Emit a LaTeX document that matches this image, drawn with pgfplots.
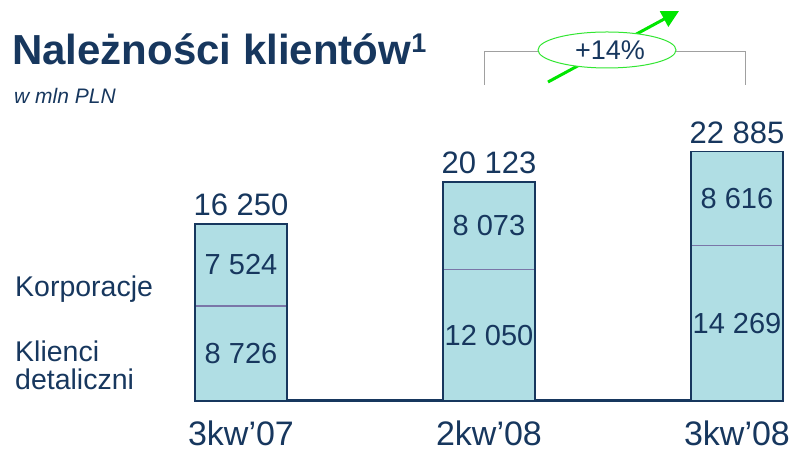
\documentclass[border=0pt]{standalone}
\usepackage{fontspec}
\setmainfont{Liberation Sans}
\usepackage{pgfplots}
\pgfplotsset{compat=1.18}
\usetikzlibrary{arrows.meta}
\definecolor{navy}{RGB}{23,55,94}
\definecolor{barfill}{RGB}{176,222,228}
\definecolor{sepcol}{RGB}{122,118,168}
\definecolor{garrow}{RGB}{0,230,0}
\definecolor{gell}{RGB}{50,230,50}
\definecolor{brk}{RGB}{160,160,160}
\begin{document}
\begin{tikzpicture}
\useasboundingbox (0pt,0pt) rectangle (798pt,454pt);
% title and subtitle
\node[anchor=base west, inner sep=0, text=navy, font=\fontsize{42}{42}\selectfont\bfseries] at (12pt,389pt) {Należności klientów\raisebox{12pt}{\fontsize{27}{27}\selectfont 1}};
\node[anchor=base west, inner sep=0, text=navy, font=\fontsize{21}{21}\selectfont\itshape] at (14pt,350pt) {w mln PLN};
% left labels
\node[anchor=base west, inner sep=0, text=navy, font=\fontsize{28.5}{28.5}\selectfont] at (15pt,157pt) {Korporacje};
\node[anchor=base west, inner sep=0, text=navy, font=\fontsize{28.5}{28.5}\selectfont] at (15pt,92pt) {Klienci};
\node[anchor=base west, inner sep=0, text=navy, font=\fontsize{28.5}{28.5}\selectfont] at (15pt,64pt) {detaliczni};

\begin{axis}[
  at={(195pt,53pt)}, anchor=south west, scale only axis,
  width=588pt, height=272.5pt,
  xmin=-0.1855, xmax=2.1855, ymin=0, ymax=25000,
  ybar stacked, bar width=92pt,
  axis x line*=bottom, axis y line=none,
  x axis line style={line width=3pt, draw=navy, -},
  xtick={0,1,2}, xticklabels={3kw’07,2kw’08,3kw’08},
  major tick length=0pt,
  xticklabel style={anchor=base, inner sep=0pt, yshift=-45pt, font=\fontsize{34}{34}\selectfont, text=navy},
  clip=false,
]
\addplot[fill=barfill, draw=sepcol, line width=1.5pt] coordinates {(0,8726) (1,12050) (2,14269)};
\addplot[fill=barfill, draw=sepcol, line width=1.5pt] coordinates {(0,7524) (1,8073) (2,8616)};
\end{axis}

\begin{axis}[
  at={(195pt,53pt)}, anchor=south west, scale only axis,
  width=588pt, height=272.5pt,
  xmin=-0.1855, xmax=2.1855, ymin=0, ymax=25000,
  hide axis, clip=false,
]
\addplot[ybar, bar width=92pt, bar shift=0pt, fill=none, draw=navy, line width=1.8pt,
  nodes near coords, point meta=explicit symbolic,
  every node near coord/.append style={anchor=south, inner sep=7pt, font=\fontsize{31}{31}\selectfont, text=navy}]
  coordinates {(0,16250) [16 250] (1,20123) [20 123] (2,22885) [22 885]};
\addplot[draw=none, nodes near coords, point meta=explicit symbolic,
  every node near coord/.append style={anchor=center, inner sep=0pt, font=\fontsize{29}{29}\selectfont, text=navy}]
  coordinates {(0,4363) [8 726] (1,6025) [12 050] (2,7134.5) [14 269]
               (0,12488) [7 524] (1,16086.5) [8 073] (2,18577) [8 616]};
\end{axis}

% bracket and growth annotation
\draw[brk, line width=1pt] (484pt,369pt) -- (484pt,402pt) -- (538pt,402pt);
\draw[brk, line width=1pt] (676pt,402pt) -- (745pt,402pt) -- (745pt,369pt);
\draw[garrow, line width=3pt, -{Triangle[length=17pt,width=17pt]}] (548pt,372pt) -- (679pt,443pt);
\draw[gell, line width=1pt, fill=white] (607pt,404pt) ellipse [x radius=69pt, y radius=18pt];
\node[text=navy, font=\fontsize{27}{27}\selectfont, inner sep=0] at (610pt,404pt) {+14\%};
\end{tikzpicture}
\end{document}
